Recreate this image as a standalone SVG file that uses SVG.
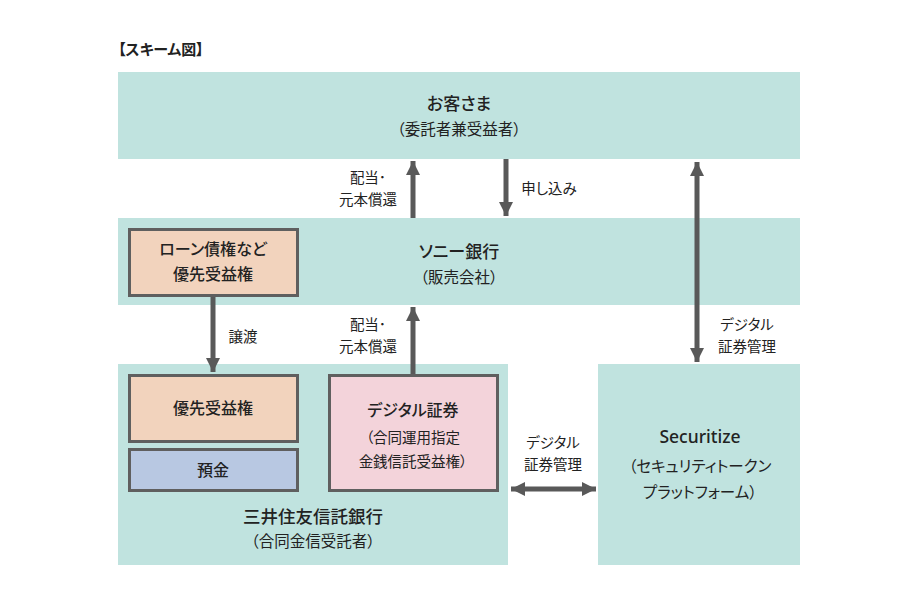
<svg xmlns="http://www.w3.org/2000/svg" width="918" height="612" viewBox="0 0 918 612">
<defs>
<marker id="ah" markerUnits="userSpaceOnUse" markerWidth="16" markerHeight="16" viewBox="0 0 16 16" refX="14" refY="8" orient="auto-start-reverse">
<path d="M0,1 L14,8 L0,15 Z" fill="#595959"/>
</marker>
</defs>
<style>
.band{fill:#c0e3df}
.box{stroke:#5f5f5f;stroke-width:3}
.t{font-family:"Noto Sans CJK JP","Noto Sans",sans-serif;font-size:16px;fill:#222;text-anchor:middle;font-feature-settings:"palt" 1}
.b{font-weight:500}
.m{font-size:17px}
.sub{font-size:15.5px}
.s{font-size:14.5px}
.c{stroke:#595959;stroke-width:5;fill:none}
</style>
<rect width="918" height="612" fill="#fff"/>
<text x="118" y="55" class="t" style="text-anchor:start;font-size:15px;font-weight:700">【スキーム図】</text>
<g id="customer">
<rect class="band" x="118" y="72" width="682" height="87"/>
<text x="459" y="110" class="t b m">お客さま</text>
<text x="459" y="135" class="t sub">（委託者兼受益者）</text>
</g>
<g id="sony">
<rect class="band" x="118" y="218" width="682" height="87"/>
<text x="459" y="258" class="t b m">ソニー銀行</text>
<text x="459" y="283" class="t sub">（販売会社）</text>
</g>
<g id="loan">
<rect class="box" x="129.5" y="229.5" width="168" height="66" fill="#f2d3bd"/>
<text x="213" y="255" class="t b">ローン債権など</text>
<text x="213" y="280" class="t b">優先受益権</text>
</g>
<g id="trust">
<rect class="band" x="118" y="364" width="390" height="201"/>
<text x="313" y="523" class="t b" style="font-size:17.5px">三井住友信託銀行</text>
<text x="313" y="547" class="t sub">（合同金信受託者）</text>
</g>
<g id="senior">
<rect class="box" x="129.5" y="375.5" width="168" height="66" fill="#f2d3bd"/>
<text x="213" y="414" class="t b">優先受益権</text>
</g>
<g id="deposit">
<rect class="box" x="129.5" y="449.5" width="168" height="41" fill="#b8c8e2"/>
<text x="213" y="476" class="t b">預金</text>
</g>
<g id="digital">
<rect class="box" x="329.5" y="375.5" width="168" height="115" fill="#f3d3da"/>
<text x="413" y="416" class="t b">デジタル証券</text>
<text x="413" y="443" class="t s">（合同運用指定</text>
<text x="413" y="467" class="t s">金銭信託受益権）</text>
</g>
<g id="securitize">
<rect class="band" x="598" y="364" width="202" height="201"/>
<text x="700" y="443" class="t b" style="font-family:'Noto Sans','Noto Sans CJK JP',sans-serif;font-size:17.5px">Securitize</text>
<text x="700" y="472" class="t sub">（セキュリティトークン</text>
<text x="700" y="498" class="t sub">プラットフォーム）</text>
</g>
<g id="connectors">
<line class="c" x1="413" y1="218" x2="413" y2="161" marker-end="url(#ah)"/>
<line class="c" x1="506" y1="159" x2="506" y2="216" marker-end="url(#ah)"/>
<line class="c" x1="697" y1="162" x2="697" y2="362" marker-start="url(#ah)" marker-end="url(#ah)"/>
<line class="c" x1="413" y1="374" x2="413" y2="307" marker-end="url(#ah)"/>
<line class="c" x1="213" y1="297" x2="213" y2="372" marker-end="url(#ah)"/>
<line class="c" x1="511" y1="489" x2="596" y2="489" marker-start="url(#ah)" marker-end="url(#ah)"/>
</g>
<g id="labels">
<text x="368" y="183" class="t s">配当･</text>
<text x="368" y="205" class="t s">元本償還</text>
<text x="549" y="194" class="t s">申し込み</text>
<text x="368" y="330" class="t s">配当･</text>
<text x="368" y="352" class="t s">元本償還</text>
<text x="243" y="342" class="t s">譲渡</text>
<text x="747" y="330" class="t s">デジタル</text>
<text x="747" y="352" class="t s">証券管理</text>
<text x="553" y="448" class="t s">デジタル</text>
<text x="553" y="470" class="t s">証券管理</text>
</g>
</svg>
